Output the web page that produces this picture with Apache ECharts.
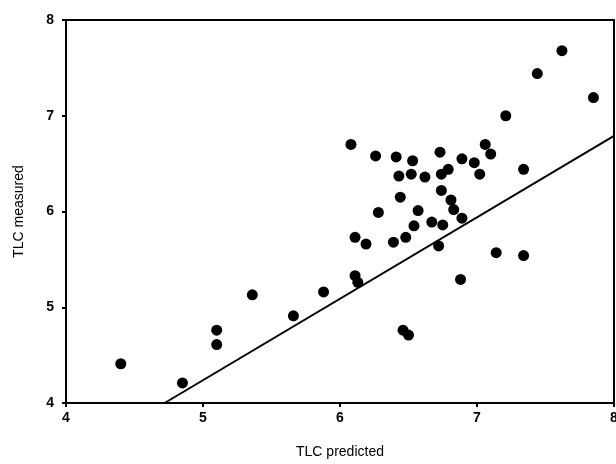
<!DOCTYPE html>
<html>
<head>
<meta charset="utf-8">
<script src="https://cdn.jsdelivr.net/npm/echarts@6/dist/echarts.min.js"></script>
<style>
html,body{margin:0;padding:0;background:#fff;}
#chart{width:616px;height:464px;}
</style>
</head>
<body>
<div id="chart"></div>
<script>
// TLC predicted (x) vs TLC measured (y)
var tlcPredicted = [4.40,4.85,5.10,5.10,5.36,5.66,5.88,6.08,6.26,6.41,6.53,6.73,6.89,6.98,7.06,7.10,7.21,7.34,7.44,7.62,7.85,
  6.43,6.52,6.62,6.74,6.79,7.02,6.74,6.44,6.81,6.28,6.57,6.83,6.89,6.67,6.75,6.54,6.11,6.19,6.39,6.48,6.72,7.14,7.34,6.88,6.11,6.13,6.46,6.50];
var tlcMeasured = [4.41,4.21,4.76,4.61,5.13,4.91,5.16,6.70,6.58,6.57,6.53,6.62,6.55,6.51,6.70,6.60,7.00,6.44,7.44,7.68,7.19,
  6.37,6.39,6.36,6.39,6.44,6.39,6.22,6.15,6.12,5.99,6.01,6.02,5.93,5.89,5.86,5.85,5.73,5.66,5.68,5.73,5.64,5.57,5.54,5.29,5.33,5.26,4.76,4.71];
var lineX = [4.72, 8.0];
var lineY = [4.0, 6.79];
var xTicks = [4,5,6,7,8];
var yTicks = [4,5,6,7,8];

var points = tlcPredicted.map(function(x,i){return [x, tlcMeasured[i]];});
var linePts = lineX.map(function(x,i){return [x, lineY[i]];});

var chart = echarts.init(document.getElementById('chart'));
var axisCommon = {
  axisLine:{show:true, lineStyle:{color:'#000', width:2}},
  axisTick:{show:true, inside:false, length:4, lineStyle:{color:'#000', width:2}},
  splitLine:{show:false},
  nameLocation:'middle',
  nameTextStyle:{color:'#000', fontFamily:'Liberation Sans', fontSize:14}
};
chart.setOption({
  animation:false,
  backgroundColor:'#fff',
  grid:{left:66, top:20, right:2, bottom:61, containLabel:false, outerBoundsMode:'none',
        show:true, borderColor:'#000', borderWidth:2, backgroundColor:'transparent'},
  xAxis:Object.assign({}, axisCommon, {
    type:'value', min:4, max:8, interval:1, name:'TLC predicted', nameGap:42,
    axisLabel:{color:'#000', fontFamily:'Liberation Sans', fontSize:14, fontWeight:'bold', margin:8}
  }),
  yAxis:Object.assign({}, axisCommon, {
    type:'value', min:4, max:8, interval:1, name:'TLC measured', nameGap:40,
    axisLabel:{color:'#000', fontFamily:'Liberation Sans', fontSize:14, fontWeight:'bold', margin:12}
  }),
  series:[
    {type:'line', data:linePts, symbol:'none', lineStyle:{color:'#000', width:2}, z:2},
    {type:'scatter', data:points, symbol:'circle', symbolSize:11, itemStyle:{color:'#000', opacity:1}, z:3}
  ]
});
</script>
</body>
</html>
